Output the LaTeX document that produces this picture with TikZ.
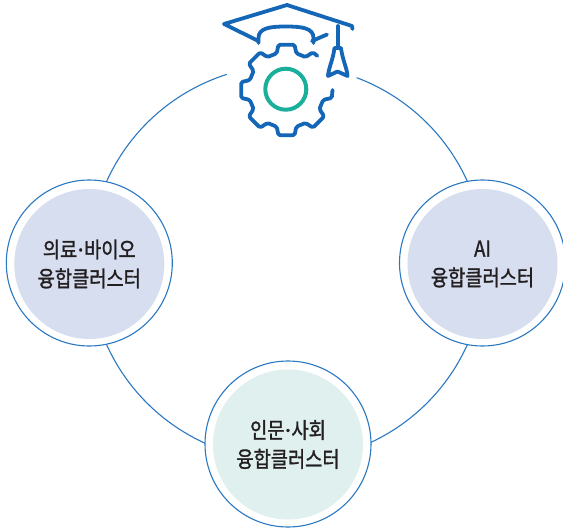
\documentclass[tikz,border=0pt]{standalone}
\usepackage{fontspec}
\newfontfamily\krfont{Noto Sans CJK KR}[FakeStretch=0.85, FakeBold=1.3]
\newfontfamily\dotfont{Noto Sans}[FakeBold=1.3]
\newcommand\kdot{{\dotfont\kern0.5pt·\kern0.5pt}}
\definecolor{ringblue}{HTML}{2B78C2}
\definecolor{iconblue}{HTML}{1466B6}
\definecolor{iconteal}{HTML}{1AAF9B}
\definecolor{fillblue}{HTML}{D6DEEF}
\definecolor{fillmint}{HTML}{DFF0EE}
\definecolor{textgray}{HTML}{231F20}
\tikzset{
  ring/.style={circle, draw=ringblue, line width=1.1pt, fill=white, minimum size=166pt, inner sep=0pt},
  core/.style={circle, minimum size=150pt, inner sep=0pt, text=textgray, align=center,
               font=\krfont\fontsize{22pt}{29pt}\selectfont},
  orbit/.style={draw=ringblue, line width=1.1pt},
  icon/.style={draw=iconblue, line width=3.8pt, line cap=round, line join=round},
}
\begin{document}
\begin{tikzpicture}[x=1pt,y=-1pt]
\useasboundingbox (0,0) rectangle (563,528);
% big orbit
\coordinate (O) at (287,263);
\draw[orbit] (O) ++(107.7:198pt) arc[start angle=107.7, end angle=429.4, radius=198pt];
% cluster circles
\node[ring] (L) at (89.3,263) {};
\node[ring] (R) at (482.5,263) {};
\node[ring] (B) at (288,444) {};
\node[core, fill=fillblue] (Lc) at (89.3,264) {의료\kdot 바이오\\융합클러스터};
\node[core, fill=fillblue] (Rc) at (482.5,264) {AI\\융합클러스터};
\node[core, fill=fillmint] (Bc) at (288,444.5) {인문\kdot 사회\\융합클러스터};
% icon: gear
\begin{scope}[shift={(286.5,90)}]
\draw[icon, rounded corners=1.6pt] (48:46pt) -- (55:46pt)
  \foreach \t in {90,135,...,315} { -- (\t-30:38pt) -- (\t-15:38pt) -- (\t-10:46pt) -- (\t+10:46pt) }
  -- (330:38pt) -- (345:38pt) -- (350:46pt) -- (360:46pt);
\end{scope}
\draw[draw=iconteal, line width=4pt] (285.8,89.2) circle[radius=20.5pt];
% icon: mortarboard
\draw[icon] (258.5,41) -- (224,24) -- (287,5) -- (352,26) -- (352.5,29);
\draw[icon] (312,41) -- (327,34.5);
\draw[icon] (258.5,43) -- (258.5,38) .. controls (258.5,28) and (270,26.5) .. (286,26.5)
  .. controls (302,26.5) and (313.5,28) .. (313.5,38) -- (313.5,43);
% tassel
\draw[icon] (338,26) -- (338,47);
\draw[icon] (334.5,48) .. controls (333,60) and (328.5,68) .. (328,76) -- (337.5,71.5)
  -- (347.5,76) .. controls (347,68) and (342.5,60) .. (341,48) -- cycle;
\end{tikzpicture}
\end{document}
